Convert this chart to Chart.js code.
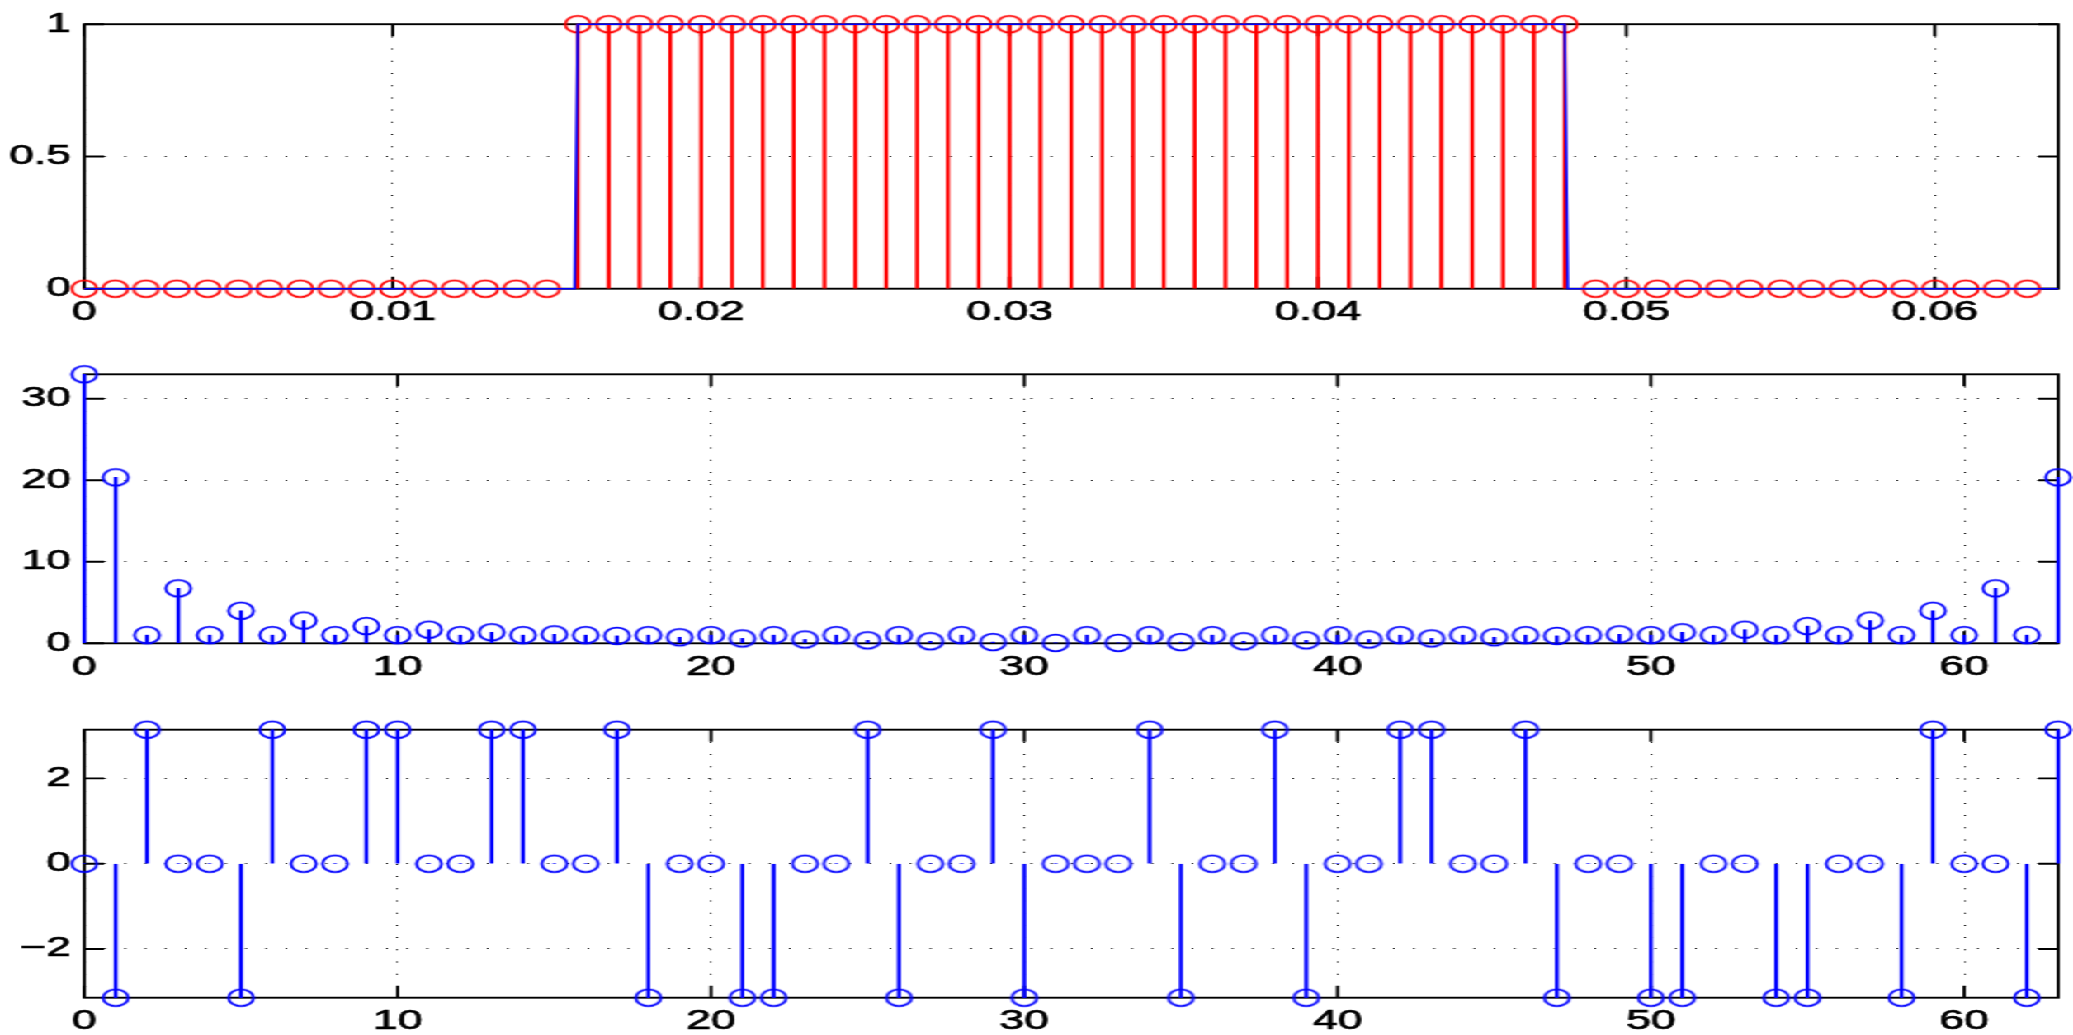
<!DOCTYPE html>
<html>
<head>
<meta charset="utf-8">
<script src="https://cdn.jsdelivr.net/npm/chart.js@4.4.1/dist/chart.umd.min.js"></script>
<style>
  html, body { margin: 0; padding: 0; background: #fff; overflow: hidden; }
  /* the figure is laid out narrow and then widened, text and markers included */
  #figure { position: absolute; left: 0; top: 0; width: 1256px; height: 1035px;
            transform: scaleX(1.6505); transform-origin: 0 0; }
  .panel { position: absolute; left: 0; width: 1256px; height: 345px; }
</style>
</head>
<body>
<div id="figure">
  <div class="panel" style="top:0px"><canvas id="signalChart"></canvas></div>
  <div class="panel" style="top:345px"><canvas id="magnitudeChart"></canvas></div>
  <div class="panel" style="top:690px"><canvas id="phaseChart"></canvas></div>
</div>
<script>
// sampled pulse x[n], n = 0..63, Ts = 1 ms
const sampleTimes = [
  0, 0.001, 0.002, 0.003, 0.004, 0.005, 0.006, 0.007, 0.008, 0.009,
  0.010, 0.011, 0.012, 0.013, 0.014, 0.015, 0.016, 0.017, 0.018, 0.019,
  0.020, 0.021, 0.022, 0.023, 0.024, 0.025, 0.026, 0.027, 0.028, 0.029,
  0.030, 0.031, 0.032, 0.033, 0.034, 0.035, 0.036, 0.037, 0.038, 0.039,
  0.040, 0.041, 0.042, 0.043, 0.044, 0.045, 0.046, 0.047, 0.048, 0.049,
  0.050, 0.051, 0.052, 0.053, 0.054, 0.055, 0.056, 0.057, 0.058, 0.059,
  0.060, 0.061, 0.062, 0.063
];
const sampleValues = [
  0, 0, 0, 0, 0, 0, 0, 0, 0, 0, 0, 0, 0, 0, 0, 0,
  1, 1, 1, 1, 1, 1, 1, 1, 1, 1, 1, 1, 1, 1, 1, 1,
  1, 1, 1, 1, 1, 1, 1, 1, 1, 1, 1, 1, 1, 1, 1, 1, 1,
  0, 0, 0, 0, 0, 0, 0, 0, 0, 0, 0, 0, 0, 0, 0
];
// continuous pulse drawn behind the samples
const pulseTimes = [0, 0.0159, 0.016, 0.048, 0.0481, 0.064];
const pulseLevels = [0, 0, 1, 1, 0, 0];

// DFT bins k = 0..63
const binIndex = [
  0, 1, 2, 3, 4, 5, 6, 7, 8, 9, 10, 11, 12, 13, 14, 15,
  16, 17, 18, 19, 20, 21, 22, 23, 24, 25, 26, 27, 28, 29, 30, 31,
  32, 33, 34, 35, 36, 37, 38, 39, 40, 41, 42, 43, 44, 45, 46, 47,
  48, 49, 50, 51, 52, 53, 54, 55, 56, 57, 58, 59, 60, 61, 62, 63
];
const magnitude = [
  33, 20.36, 1, 6.74, 1, 3.99, 1, 2.79, 1, 2.11, 1, 1.67, 1, 1.35, 1, 1.10,
  1, 0.91, 1, 0.74, 1, 0.60, 1, 0.47, 1, 0.36, 1, 0.25, 1, 0.15, 1, 0.05,
  1, 0.05, 1, 0.15, 1, 0.25, 1, 0.36, 1, 0.47, 1, 0.60, 1, 0.74, 1, 0.91,
  1, 1.10, 1, 1.35, 1, 1.67, 1, 2.11, 1, 2.79, 1, 3.99, 1, 6.74, 1, 20.36
];
const phase = [
  0, -3.1416, 3.1416, 0, 0, -3.1416, 3.1416, 0, 0, 3.1416,
  3.1416, 0, 0, 3.1416, 3.1416, 0, 0, 3.1416, -3.1416, 0,
  0, -3.1416, -3.1416, 0, 0, 3.1416, -3.1416, 0, 0, 3.1416,
  -3.1416, 0, 0, 0, 3.1416, -3.1416, 0, 0, 3.1416, -3.1416,
  0, 0, 3.1416, 3.1416, 0, 0, 3.1416, -3.1416, 0, 0,
  -3.1416, -3.1416, 0, 0, -3.1416, -3.1416, 0, 0, -3.1416, 3.1416,
  0, 0, -3.1416, 3.1416
];

// tick positions
const timeTicks = [0, 0.01, 0.02, 0.03, 0.04, 0.05, 0.06];
const signalTicks = [0, 0.5, 1];
const binTicks = [0, 10, 20, 30, 40, 50, 60];
const magnitudeTicks = [0, 10, 20, 30];
const phaseTicks = [-2, 0, 2];

const RED = '#ff0000';
const BLUE = '#0000ff';
const TICK_LEN = 12;
const AXIS_LEFT = 51.1;

function toPoints(xs, ys) {
  return xs.map((x, i) => ({ x: x, y: ys[i] }));
}

// open 'o' marker, a touch narrower than tall
function ringMarker(color) {
  const c = document.createElement('canvas');
  c.width = 22;
  c.height = 24;
  const g = c.getContext('2d');
  g.strokeStyle = color;
  g.lineWidth = 1.8;
  g.beginPath();
  g.ellipse(11, 12, 7.6, 8.3, 0, 0, 2 * Math.PI);
  g.stroke();
  return c;
}

// box round the plot area with inward tick marks on all four sides
const axesBox = {
  id: 'axesBox',
  beforeDatasetsDraw(chart) {
    const { ctx, chartArea: { left, right, top, bottom }, scales: { x, y } } = chart;
    ctx.save();
    ctx.strokeStyle = '#000';
    ctx.lineWidth = 1.9;
    ctx.strokeRect(left, top, right - left, bottom - top);
    ctx.beginPath();
    x.ticks.forEach(t => {
      const px = x.getPixelForValue(t.value);
      ctx.moveTo(px, bottom); ctx.lineTo(px, bottom - TICK_LEN);
      ctx.moveTo(px, top); ctx.lineTo(px, top + TICK_LEN);
    });
    y.ticks.forEach(t => {
      const py = y.getPixelForValue(t.value);
      ctx.moveTo(left, py); ctx.lineTo(left + TICK_LEN, py);
      ctx.moveTo(right, py); ctx.lineTo(right - TICK_LEN, py);
    });
    ctx.stroke();
    ctx.restore();
  }
};

function axisOptions(min, max, ticks, fit) {
  return {
    type: 'linear',
    min: min,
    max: max,
    offset: false,
    afterBuildTicks: scale => { scale.ticks = ticks.map(v => ({ value: v })); },
    afterFit: fit,
    grid: { color: '#000', lineWidth: 1.1, drawTicks: false, offset: false },
    border: { display: false, dash: [1, 11.2] },
    ticks: {
      color: '#000',
      font: { family: '"Liberation Sans", Arial, sans-serif', size: 27 },
      textStrokeColor: '#000',
      textStrokeWidth: 0.7,
      padding: 8,
      maxRotation: 0,
      autoSkip: false,
      callback: v => (v < 0 ? '\u2212' + Math.abs(v) : String(v))
    }
  };
}

function stemChart(id, cfg) {
  const points = toPoints(cfg.xs, cfg.ys);
  const datasets = [
    {
      type: 'bar',
      data: points,
      backgroundColor: cfg.color,
      borderWidth: 0,
      barThickness: 1.7,
      order: 3,
      clip: false
    },
    {
      type: 'scatter',
      data: points,
      showLine: false,
      pointStyle: ringMarker(cfg.color),
      pointRadius: 8,
      order: 2,
      clip: false
    }
  ];
  if (cfg.extra) datasets.push(cfg.extra);

  return new Chart(document.getElementById(id), {
    type: 'scatter',
    data: { datasets: datasets },
    options: {
      responsive: true,
      maintainAspectRatio: false,
      animation: false,
      layout: { padding: { top: cfg.top, right: 0.7, bottom: 0, left: 0 } },
      plugins: { legend: { display: false }, tooltip: { enabled: false } },
      scales: {
        x: axisOptions(cfg.xMin, cfg.xMax, cfg.xTicks, s => { s.height = cfg.xHeight; }),
        y: axisOptions(cfg.yMin, cfg.yMax, cfg.yTicks, s => { s.width = AXIS_LEFT; })
      }
    },
    plugins: [axesBox]
  });
}

// x[n] with the underlying pulse
stemChart('signalChart', {
  xs: sampleTimes, ys: sampleValues, color: RED,
  xMin: 0, xMax: 0.064, xTicks: timeTicks,
  yMin: 0, yMax: 1, yTicks: signalTicks,
  top: 20, xHeight: 56.3,
  extra: {
    type: 'line',
    data: toPoints(pulseTimes, pulseLevels),
    borderColor: BLUE,
    borderWidth: 1.6,
    pointRadius: 0,
    tension: 0,
    fill: false,
    order: 1,
    clip: false
  }
});

// |X[k]|
stemChart('magnitudeChart', {
  xs: binIndex, ys: magnitude, color: BLUE,
  xMin: 0, xMax: 63, xTicks: binTicks,
  yMin: 0, yMax: 33, yTicks: magnitudeTicks,
  top: 29.3, xHeight: 46.7
});

// angle of X[k]
stemChart('phaseChart', {
  xs: binIndex, ys: phase, color: BLUE,
  xMin: 0, xMax: 63, xTicks: binTicks,
  yMin: -3.1416, yMax: 3.1416, yTicks: phaseTicks,
  top: 39.7, xHeight: 37.3
});
</script>
</body>
</html>
